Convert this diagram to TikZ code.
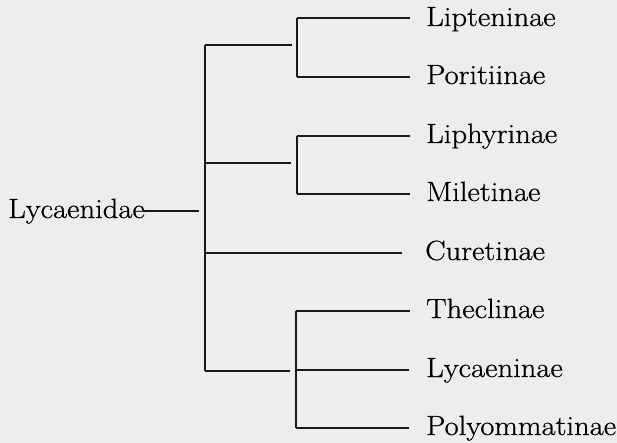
\documentclass[tikz,border=0pt]{standalone}
\usepackage{fontspec}
\setmainfont{Latin Modern Roman}[FakeStretch=1.1,FakeBold=0.6]
\begin{document}
\begin{tikzpicture}[x=1pt,y=-1pt,
  branch/.style={line width=1.3pt,line cap=butt,draw=black!90},
  taxon/.style={anchor=base west,inner sep=0pt,font=\fontsize{27.8}{32}\selectfont}]
\useasboundingbox[fill=black!7] (0,0) rectangle (617,443);
% root
\node[taxon] (root) at (8,218) {Lycaenidae};
\coordinate (r0) at (143,211);
\coordinate (r1) at (199,211);
\draw[branch] (r0) -- (r1);
% main vertical
\coordinate (m1) at (205,45);
\coordinate (m2) at (205,163);
\coordinate (m3) at (205,253);
\coordinate (m4) at (205,371);
\draw[branch] (m1) -- (m4);
% branch ends
\coordinate (e1) at (292,45);
\coordinate (e2) at (291,163);
\coordinate (e4) at (290,371);
\draw[branch] (m1) -- (e1);
\draw[branch] (m2) -- (e2);
\draw[branch] (m4) -- (e4);
% sub verticals
\coordinate (s1a) at (297,18);  \coordinate (s1b) at (297,77);
\coordinate (s2a) at (297,136); \coordinate (s2b) at (297,194);
\coordinate (s4a) at (296,311); \coordinate (s4m) at (296,370); \coordinate (s4b) at (296,428);
\draw[branch] (s1a) -- (s1b);
\draw[branch] (s2a) -- (s2b);
\draw[branch] (s4a) -- (s4b);
% leaf line ends
\coordinate (l1) at (410,18);
\coordinate (l2) at (410,77);
\coordinate (l3) at (410,136);
\coordinate (l4) at (410,194);
\coordinate (l5) at (402,253);
\coordinate (l6) at (410,311);
\coordinate (l7) at (409,370);
\coordinate (l8) at (409,428);
\draw[branch] (s1a) -- (l1);
\draw[branch] (s1b) -- (l2);
\draw[branch] (s2a) -- (l3);
\draw[branch] (s2b) -- (l4);
\draw[branch] (m3) -- (l5);
\draw[branch] (s4a) -- (l6);
\draw[branch] (s4m) -- (l7);
\draw[branch] (s4b) -- (l8);
% leaf labels
\node[taxon] (t1) at (426,26) {Lipteninae};
\node[taxon] (t2) at (426,84) {Poritiinae};
\node[taxon] (t3) at (426,143) {Liphyrinae};
\node[taxon] (t4) at (426,201) {Miletinae};
\node[taxon] (t5) at (425,260) {Curetinae};
\node[taxon] (t6) at (426,318) {Theclinae};
\node[taxon] (t7) at (426,377) {Lycaeninae};
\node[taxon] (t8) at (426,435) {Polyommatinae};
\end{tikzpicture}
\end{document}
